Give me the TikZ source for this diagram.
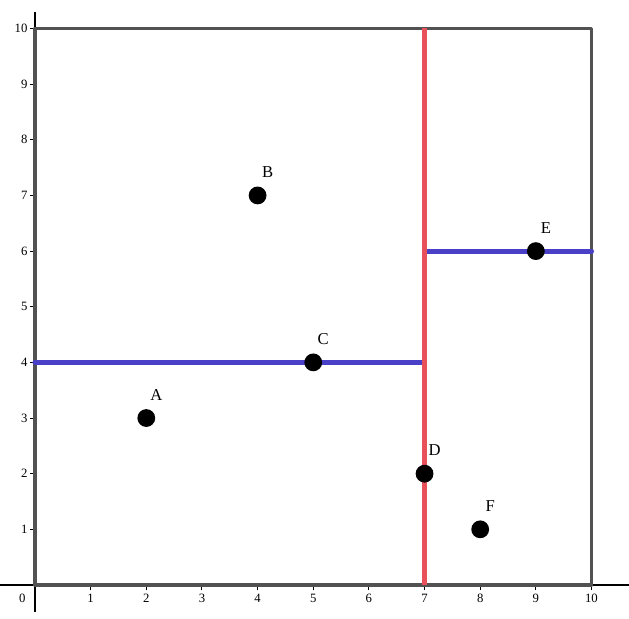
\documentclass[tikz,border=0pt]{standalone}
\usepackage{fontspec}
\setmainfont{Liberation Serif}
\begin{document}
\begin{tikzpicture}[x=1cm,y=1cm,
  pt/.style={circle,fill=black,inner sep=0pt,minimum size=0.32cm},
  lbl/.style={font=\fontsize{8.5}{9}\selectfont,inner sep=0pt},
  tick/.style={font=\fontsize{6.5}{7}\selectfont,inner sep=0pt},
  boxline/.style={draw=black!68,line width=2pt},
  redline/.style={draw=red!70!black!40!red,line width=3pt},
  blueline/.style={draw=blue!55!black!60!blue,line width=2.6pt}]
\definecolor{myred}{HTML}{E8505A}
\definecolor{myblue}{HTML}{4A40C8}
\useasboundingbox (-0.629,-0.611) rectangle (10.674,10.512);
% axes
\coordinate (xl) at (-0.629,0);
\coordinate (xr) at (10.674,0);
\coordinate (yb) at (0,-0.49);
\coordinate (yt) at (0,10.3);
\draw[line width=0.6pt] (xl) -- (xr);
\draw[line width=0.6pt] (yb) -- (yt);
\foreach \i in {1,...,10} {
  \draw[line width=0.5pt] (\i,0) -- (\i,-0.09);
  \node[tick] at (\i,-0.24) {\i};
  \draw[line width=0.5pt] (0,\i) -- (-0.09,\i);
  \node[tick,anchor=east] at (-0.13,\i) {\i};
}
\node[tick] (o) at (-0.23,-0.24) {0};
% box
\coordinate (b00) at (0,0);
\coordinate (b10) at (10,0);
\coordinate (b11) at (10,10);
\coordinate (b01) at (0,10);
\draw[boxline,line cap=round,line join=round] (b00) -- (b10) -- (b11) -- (b01) -- cycle;
% splits
\coordinate (r0) at (7,0);
\coordinate (r1) at (7,10);
\coordinate (l4) at (0,4);
\coordinate (m4) at (7,4);
\coordinate (m6) at (7,6);
\coordinate (e6) at (10,6);
\draw[draw=myblue,line width=2.6pt,line cap=round] (l4) -- (m4);
\draw[draw=myblue,line width=2.6pt,line cap=round] (m6) -- (e6);
\draw[draw=myred,line width=3pt] (r0) -- (r1);
% points
\node[pt] (A) at (2,3) {};
\node[pt] (B) at (4,7) {};
\node[pt] (C) at (5,4) {};
\node[pt] (D) at (7,2) {};
\node[pt] (E) at (9,6) {};
\node[pt] (F) at (8,1) {};
\foreach \p in {A,B,C,D,E,F} {
  \node[lbl] (\p l) at ([xshift=0.18cm,yshift=0.42cm]\p) {\p};
}
\end{tikzpicture}
\end{document}
